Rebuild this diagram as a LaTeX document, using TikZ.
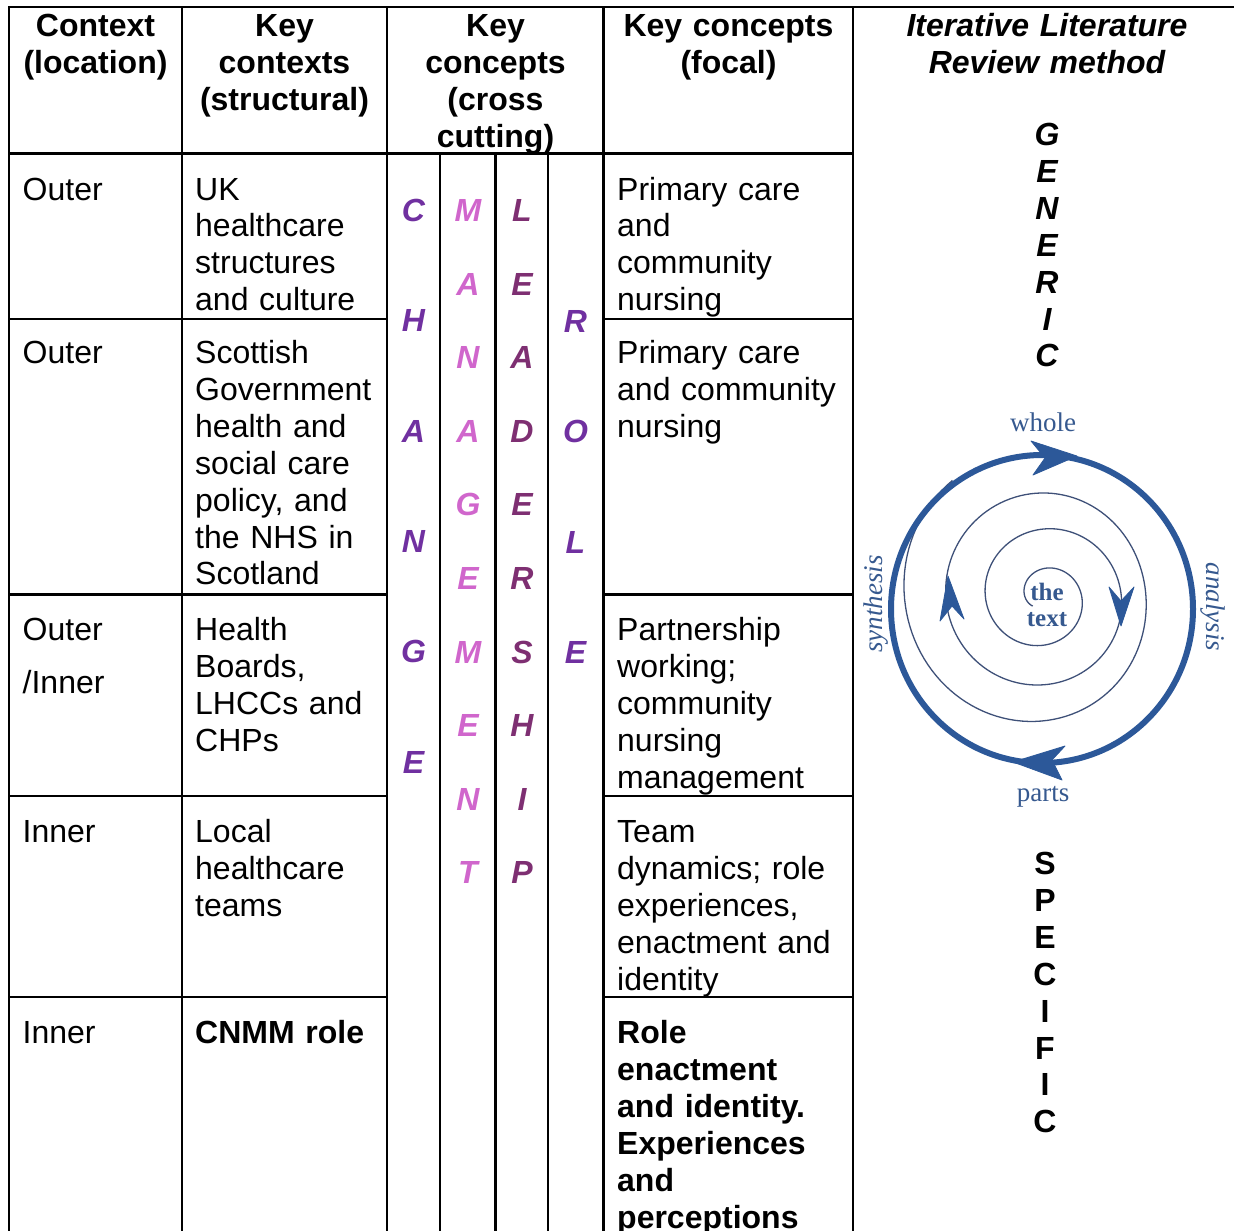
\documentclass[tikz,border=0pt]{standalone}
\usepackage{fontspec}
\setmainfont{Liberation Sans}
\newfontfamily\spiralfont{Liberation Serif}
\definecolor{changecol}{HTML}{7030A0}
\definecolor{mgmtcol}{HTML}{D066CC}
\definecolor{leadcol}{HTML}{7E2F72}
\definecolor{loopblue}{HTML}{2C5899}
\definecolor{loopthin}{HTML}{3E5078}
\definecolor{looptext}{HTML}{36598F}

\begin{document}
\begin{tikzpicture}[x=1pt,y=-1pt,
  rule/.style={line width=2.6pt, line cap=rect},
  cell/.style={anchor=base west, inner sep=0pt, text width=240pt, align=left,
    font=\fontsize{32}{36.9}\selectfont},
  headcell/.style={anchor=base, inner sep=0pt, text width=360pt, align=center,
    font=\fontsize{32}{36.9}\selectfont\bfseries},
  vletter/.style={anchor=base, inner sep=0pt, font=\fontsize{32}{36.9}\selectfont\bfseries\itshape},
  sletter/.style={anchor=base, inner sep=0pt, font=\fontsize{32}{36.9}\selectfont\bfseries},
  looplabel/.style={inner sep=0pt, text=looptext, font=\fontsize{27}{26}\spiralfont},
  arrowhead/.style={fill=loopblue, draw=loopblue, line width=0.8pt, line join=round},
  declare function={
    sr(\a)=18.5+0.11*(1260-\a)
      -15*exp(-min(20,((\a-360)/75)*((\a-360)/75)))
      +5*exp(-min(20,((\a-135)/45)*((\a-135)/45)));
  }
]
\useasboundingbox (0,0) rectangle (1234,1231);

% ---- table rules ----
\draw[rule] (9,7) -- (1234,7);
\draw[rule] (9,153.5) -- (853,153.5);
\foreach \y in {319,594.5,796,997} {
  \draw[rule] (9,\y) -- (387,\y);
  \draw[rule] (603.5,\y) -- (853,\y);
}
\foreach \x in {9,182,387,603.5,853} \draw[rule] (\x,7) -- (\x,1240);
\foreach \x in {440,495.5,548} \draw[rule] (\x,153.5) -- (\x,1240);

% ---- header ----
\node[headcell] (hloc) at (95.5,36.5) {Context\\(location)};
\node[headcell] (hstruct) at (284.5,36.5) {Key\\contexts\\(structural)};
\node[headcell] (hcross) at (495.5,36.5) {Key\\concepts\\(cross\\cutting)};
\node[headcell] (hfocal) at (728.5,36.5) {Key concepts\\(focal)};
\node[headcell, font=\fontsize{32}{36.9}\selectfont\bfseries\itshape] (hmethod) at (1047,36.5)
  {Iterative Literature\\Review method};

% ---- location column ----
\node[cell] (loc1) at (22.5,200) {Outer};
\node[cell] (loc2) at (22.5,363.5) {Outer};
\node[cell] (loc3) at (22.5,640.5) {Outer\\[16pt]/Inner};
\node[cell] (loc4) at (22.5,842.5) {Inner};
\node[cell] (loc5) at (22.5,1043.5) {Inner};

% ---- structural contexts ----
\node[cell] (str1) at (195,200) {UK\\healthcare\\structures\\and culture};
\node[cell] (str2) at (195,363.5) {Scottish\\Government\\health and\\social care\\policy, and\\the NHS in\\Scotland};
\node[cell] (str3) at (195,640.5) {Health\\Boards,\\LHCCs and\\CHPs};
\node[cell] (str4) at (195,842.5) {Local\\healthcare\\teams};
\node[cell, font=\fontsize{32}{36.9}\selectfont\bfseries] (str5) at (195,1043.5) {CNMM role};

% ---- focal concepts ----
\node[cell] (foc1) at (617,200) {Primary care\\and\\community\\nursing};
\node[cell] (foc2) at (617,363.5) {Primary care\\and community\\nursing};
\node[cell] (foc3) at (617,640.5) {Partnership\\working;\\community\\nursing\\management};
\node[cell] (foc4) at (617,842.5) {Team\\dynamics; role\\experiences,\\enactment and\\identity};
\node[cell, font=\fontsize{32}{36.9}\selectfont\bfseries] (foc5) at (617,1043.5)
  {Role\\enactment\\and identity.\\Experiences\\and\\perceptions};

% ---- cross-cutting concepts, written downwards ----
\foreach \l [count=\i from 0] in {C,H,A,N,G,E}
  \node[vletter, text=changecol] (chg\i) at (413.5,221.5+110.3*\i) {\l};
\foreach \l [count=\i from 0] in {M,A,N,A,G,E,M,E,N,T}
  \node[vletter, text=mgmtcol] (mgt\i) at (468,221.5+73.6*\i) {\l};
\foreach \l [count=\i from 0] in {L,E,A,D,E,R,S,H,I,P}
  \node[vletter, text=leadcol] (ldr\i) at (522,221.5+73.6*\i) {\l};
\foreach \l [count=\i from 0] in {R,O,L,E}
  \node[vletter, text=changecol] (rol\i) at (575.5,332.5+110.3*\i) {\l};

% ---- generic / specific ----
\foreach \l [count=\i from 0] in {G,E,N,E,R,I,C}
  \node[vletter] (gen\i) at (1047,145.5+36.9*\i) {\l};
\foreach \l [count=\i from 0] in {S,P,E,C,I,F,I,C}
  \node[sletter] (spc\i) at (1045,874.5+36.9*\i) {\l};

% ---- hermeneutic spiral ----
\draw[loopthin, line width=1.3pt]
  plot[domain=1300:128, samples=400, variable=\a]
  ({1043.5+sr(\a)*cos(\a)}, {597-sr(\a)*sin(\a)});
\draw[loopblue, line width=6pt] (1042,609) ellipse [x radius=151, y radius=154];

\fill[arrowhead] (1077,456) -- (1031,441) -- (1045,458) -- (1033,475) -- cycle;
\fill[arrowhead] (1013,762) -- (1065,746) -- (1052,760) -- (1062,780) -- cycle;
\fill[arrowhead] (948,576) -- (940,621) -- (952,606) -- (964,619) -- cycle;
\fill[arrowhead] (1121,626) -- (1109,587) -- (1121,601) -- (1134,587) -- cycle;

\node[looplabel, anchor=base] (whole) at (1043,431) {whole};
\node[looplabel, anchor=base] (parts) at (1043,801) {parts};
\node[looplabel, rotate=90, font=\fontsize{27}{26}\spiralfont\itshape] (synth) at (876,604) {synthesis};
\node[looplabel, rotate=-90, font=\fontsize{27}{26}\spiralfont\itshape] (anal) at (1213,607) {analysis};
\node[looplabel, anchor=base, text width=70pt, align=center,
  font=\fontsize{25}{26}\spiralfont\bfseries] (thetext) at (1047,600) {the\\text};

\end{tikzpicture}
\end{document}
